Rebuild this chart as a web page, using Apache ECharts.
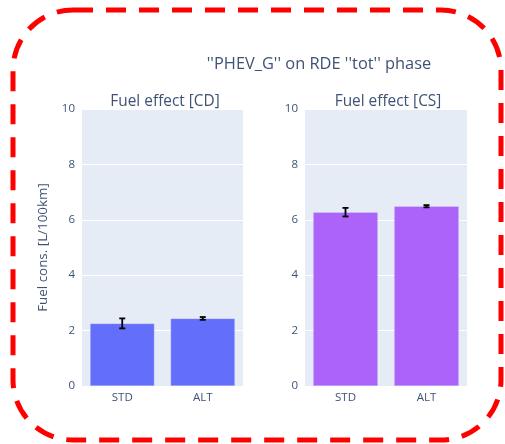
<!DOCTYPE html>
<html><head><meta charset="utf-8">
<script src="https://cdn.jsdelivr.net/npm/echarts@6/dist/echarts.min.js"></script>
<style>html,body{margin:0;padding:0;background:#fff}#c{width:505px;height:444px}</style>
</head><body><div id="c"></div>
<script>
const categories = ['STD', 'ALT'];
const cdValues = [2.26, 2.44];
const cdErrLow = [2.08, 2.39];
const cdErrHigh = [2.44, 2.49];
const csValues = [6.27, 6.49];
const csErrLow = [6.12, 6.45];
const csErrHigh = [6.43, 6.53];
const yTicks = [0, 2, 4, 6, 8, 10];
const titleText = "''PHEV_G'' on RDE ''tot'' phase";
const subTitles = ['Fuel effect [CD]', 'Fuel effect [CS]'];
const yAxisTitle = 'Fuel cons. [L/100km]';

const font = 'Open Sans, Verdana, Arial, sans-serif';
const txt = '#3f5375';
const chart = echarts.init(document.getElementById('c'), null, {renderer: 'canvas'});

function errSeries(idx, lo, hi) {
  return {
    type: 'custom', xAxisIndex: idx, yAxisIndex: idx, z: 10,
    data: categories.map((c, i) => [i, lo[i], hi[i]]),
    encode: {x: 0, y: [1, 2]},
    renderItem: function (params, api) {
      const x = api.value(0);
      const a = api.coord([x, api.value(1)]);
      const b = api.coord([x, api.value(2)]);
      const hw = 3;
      const st = {stroke: '#000', lineWidth: 1.8};
      return {type: 'group', children: [
        {type: 'line', shape: {x1: a[0], y1: a[1], x2: b[0], y2: b[1]}, style: st},
        {type: 'line', shape: {x1: a[0] - hw, y1: a[1], x2: a[0] + hw, y2: a[1]}, style: st},
        {type: 'line', shape: {x1: b[0] - hw, y1: b[1], x2: b[0] + hw, y2: b[1]}, style: st}
      ]};
    }
  };
}

function xAx(idx) {
  return {type: 'category', gridIndex: idx, data: categories,
    axisLine: {show: false}, axisTick: {show: false},
    axisLabel: {color: txt, fontFamily: font, fontSize: 11.5, margin: 6}};
}
function yAx(idx) {
  return {type: 'value', gridIndex: idx, min: 0, max: 10, interval: 2,
    axisLine: {show: false}, axisTick: {show: false},
    splitLine: {lineStyle: {color: '#ffffff', width: 1}},
    axisLabel: {color: txt, fontFamily: font, fontSize: 11.5, margin: 7},
    name: idx === 0 ? yAxisTitle : '', nameLocation: 'middle', nameGap: 32,
    nameTextStyle: {color: txt, fontFamily: font, fontSize: 13.4}};
}

chart.setOption({
  animation: false,
  title: [
    {text: titleText, left: 314, top: 51, textAlign: 'center', textStyle: {color: txt, fontFamily: font, fontSize: 16.4, fontWeight: 'normal'}},
    {text: subTitles[0], left: 160, top: 89, textAlign: 'center', textStyle: {color: txt, fontFamily: font, fontSize: 15.4, fontWeight: 'normal'}},
    {text: subTitles[1], left: 383, top: 89, textAlign: 'center', textStyle: {color: txt, fontFamily: font, fontSize: 15.4, fontWeight: 'normal'}}
  ],
  grid: [
    {left: 82, top: 109, width: 161, height: 277, show: true, backgroundColor: '#e5ecf6', borderWidth: 0},
    {left: 305, top: 109, width: 162, height: 277, show: true, backgroundColor: '#e5ecf6', borderWidth: 0}
  ],
  xAxis: [xAx(0), xAx(1)],
  yAxis: [yAx(0), yAx(1)],
  series: [
    {type: 'bar', xAxisIndex: 0, yAxisIndex: 0, data: cdValues, barCategoryGap: '20%',
      itemStyle: {color: '#636efa', borderColor: 'rgba(229,236,246,0.6)', borderWidth: 0.5}},
    {type: 'bar', xAxisIndex: 1, yAxisIndex: 1, data: csValues, barCategoryGap: '20%',
      itemStyle: {color: '#ab63fa', borderColor: 'rgba(229,236,246,0.6)', borderWidth: 0.5}},
    errSeries(0, cdErrLow, cdErrHigh),
    errSeries(1, csErrLow, csErrHigh)
  ],
  graphic: [{
    type: 'rect', shape: {x: 13, y: 10, width: 488, height: 430, r: 60}, silent: true, z: 100,
    style: {fill: 'none', stroke: '#ff0000', lineWidth: 5, lineDash: [20, 13]}
  }]
});
</script></body></html>
